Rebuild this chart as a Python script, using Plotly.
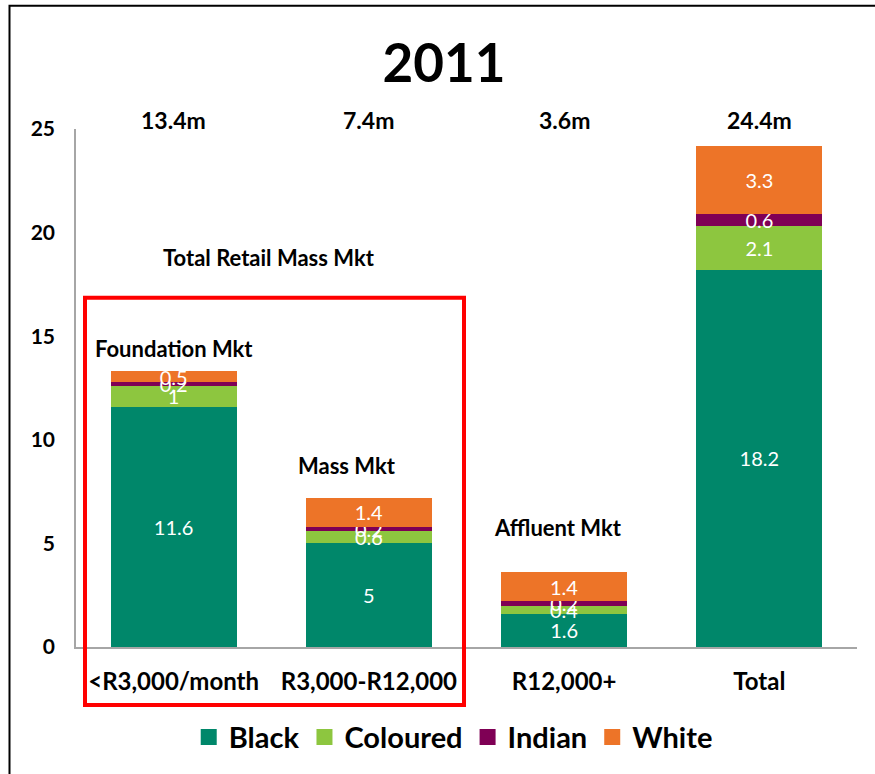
import plotly.graph_objects as go

# Income bands and population by race group (millions), 2011
categories = ["<R3,000/month", "R3,000-R12,000", "R12,000+", "Total"]
black = [11.6, 5, 1.6, 18.2]
coloured = [1, 0.6, 0.4, 2.1]
indian = [0.2, 0.2, 0.2, 0.6]
white = [0.5, 1.4, 1.4, 3.3]
market_sizes = ["13.4m", "7.4m", "3.6m", "24.4m"]

series = [
    ("Black", black, "#00876A"),
    ("Coloured", coloured, "#8DC63F"),
    ("Indian", indian, "#7F0055"),
    ("White", white, "#ED7428"),
]

FONT = "Lato"

fig = go.Figure()
for name, vals, color in series:
    fig.add_trace(go.Bar(
        x=categories, y=vals, name=name,
        marker=dict(color=color, line=dict(width=0)),
        text=vals, texttemplate="%{y}",
        textposition="inside", insidetextanchor="middle", textangle=0,
        textfont=dict(color="white", size=20, family=FONT),
        showlegend=False, hoverinfo="skip",
    ))

# legend entries with larger square swatches
for name, vals, color in series:
    fig.add_trace(go.Scatter(
        x=[None], y=[None], mode="markers", name=name,
        marker=dict(symbol="square", size=16, color=color),
    ))

annotations = []
for cat, lab in zip(categories, market_sizes):
    annotations.append(dict(
        x=cat, y=1, xref="x", yref="paper", text=lab, showarrow=False,
        yanchor="middle", yshift=9,
        font=dict(size=23, family=FONT, color="black", weight="bold"),
    ))

segment_labels = [
    ("Total Retail Mass Mkt", 0.49, 18.8),
    ("Foundation Mkt", 0.0, 14.43),
    ("Mass Mkt", 0.89, 8.74),
    ("Affluent Mkt", 1.97, 5.79),
]
for txt, xi, yv in segment_labels:
    annotations.append(dict(
        x=xi, y=yv, xref="x", yref="y", text=txt, showarrow=False,
        xanchor="center", yanchor="middle",
        font=dict(size=22, family=FONT, color="black", weight="bold"),
    ))

fig.update_layout(
    barmode="stack",
    bargap=0.355,
    width=875, height=774,
    margin=dict(l=76, r=18, t=129, b=126),
    paper_bgcolor="white", plot_bgcolor="white",
    title=dict(
        text="2011", x=444 / 875, xanchor="center",
        y=1 - 63 / 774, yanchor="middle",
        font=dict(size=53, family=FONT, color="black", weight="bold"),
    ),
    uniformtext=dict(minsize=20, mode="show"),
    legend=dict(
        orientation="h", traceorder="normal",
        x=0.483, xanchor="center",
        y=-0.172, yanchor="middle",
        font=dict(size=29, family=FONT, color="black", weight="bold"),
        itemclick=False,
    ),
    annotations=annotations,
    shapes=[
        # outer frame
        dict(type="rect", xref="paper", yref="paper",
             x0=(9.5 - 76) / 781, x1=(890 - 76) / 781,
             y0=(648 - 790) / 519, y1=(648 - 5.5) / 519,
             line=dict(color="black", width=2), fillcolor="rgba(0,0,0,0)",
             layer="above"),
        # highlight of the mass-market bands
        dict(type="rect", xref="paper", yref="paper",
             x0=(85 - 76) / 781, x1=(464 - 76) / 781,
             y0=(648 - 706) / 519, y1=(648 - 298) / 519,
             line=dict(color="#FF0000", width=4), fillcolor="rgba(0,0,0,0)",
             layer="above"),
    ],
    xaxis=dict(
        showline=True, linecolor="#A6A6A6", linewidth=1.5,
        showgrid=False, ticks="", ticklabelstandoff=12,
        tickfont=dict(size=24, family=FONT, color="black", weight="bold"),
        fixedrange=True,
    ),
    yaxis=dict(
        range=[0, 25], dtick=5,
        showline=True, linecolor="#A6A6A6", linewidth=1.5,
        showgrid=False, zeroline=False, ticks="", ticklabelstandoff=15,
        tickfont=dict(size=21, family=FONT, color="black", weight="bold"),
        fixedrange=True,
    ),
)

fig.write_html("out.html")
